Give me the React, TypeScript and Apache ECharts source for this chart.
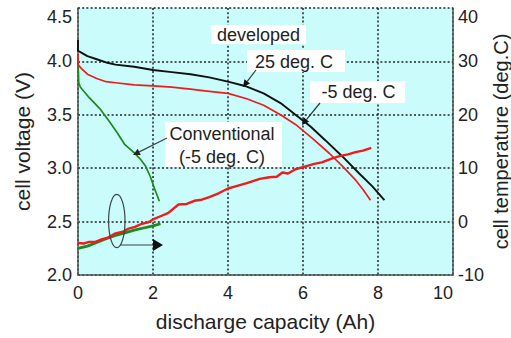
import React, { useEffect, useRef } from "react";
import * as echarts from "echarts";

// discharge capacity (Ah), cell voltage (V)
const developed25Voltage: [number, number][] = [
  [0, 4.2], [0, 4.1], [0.1, 4.08], [0.25, 4.05], [0.5, 4.02], [0.75, 3.99], [1.0, 3.97],
  [1.5, 3.95], [2.0, 3.92], [2.5, 3.9], [3.0, 3.88], [3.5, 3.85], [4.0, 3.81], [4.45, 3.77],
  [4.95, 3.7], [5.4, 3.61], [5.8, 3.5], [6.2, 3.39], [6.6, 3.26], [7.05, 3.11], [7.5, 2.95],
  [7.85, 2.83], [8.0, 2.77], [8.17, 2.7],
];
const developedM5Voltage: [number, number][] = [
  [0, 4.07], [0, 3.97], [0.1, 3.93], [0.25, 3.88], [0.5, 3.84], [0.75, 3.81], [1.0, 3.8],
  [1.5, 3.78], [2.0, 3.77], [2.5, 3.76], [3.0, 3.74], [3.5, 3.72], [4.0, 3.7], [4.5, 3.65],
  [4.95, 3.59], [5.4, 3.5], [5.8, 3.41], [6.25, 3.28], [6.7, 3.14], [7.05, 3.02], [7.4, 2.89],
  [7.6, 2.8], [7.8, 2.7],
];
const conventionalVoltage: [number, number][] = [
  [0, 4.0], [0.02, 3.8], [0.06, 3.76], [0.3, 3.66], [0.6, 3.55], [0.85, 3.43], [1.05, 3.33],
  [1.25, 3.22], [1.48, 3.15], [1.65, 3.09], [1.8, 3.02], [1.93, 2.92], [2.05, 2.8], [2.17, 2.69],
];
// discharge capacity (Ah), cell temperature (deg.C)
const developedM5Temp: [number, number][] = [
  [0, -4.0], [0.15, -4.1], [0.3, -3.8], [0.46, -3.8], [0.6, -3.4], [0.8, -3.0], [1.0, -2.2],
  [1.2, -1.9], [1.35, -1.3], [1.52, -1.0], [1.7, -0.4], [1.85, -0.2], [2.0, 0.4], [2.2, 1.0],
  [2.4, 1.6], [2.68, 3.2], [2.9, 3.3], [3.1, 3.9], [3.3, 4.1], [3.5, 4.6], [3.75, 5.3],
  [4.0, 6.2], [4.2, 6.6], [4.5, 7.2], [4.85, 8.0], [5.1, 8.3], [5.3, 8.4], [5.45, 9.2],
  [5.6, 9.0], [5.8, 9.8], [6.0, 10.2], [6.3, 10.8], [6.5, 11.1], [6.8, 11.9], [7.0, 12.3],
  [7.2, 12.6], [7.4, 13.0], [7.6, 13.3], [7.82, 13.8],
];
const conventionalTemp: [number, number][] = [
  [0, -5.0], [0.25, -4.6], [0.5, -3.9], [0.75, -3.2], [1.0, -2.6], [1.25, -2.1], [1.5, -1.6],
  [1.75, -1.2], [2.0, -0.8], [2.2, -0.4],
];

const xTicks = { min: 0, max: 10, interval: 2 };
const voltageTicks = { min: 2.0, max: 4.5, interval: 0.5 };
const tempTicks = { min: -10, max: 40, interval: 10 };

const FONT = "'Liberation Sans', Arial, sans-serif";
const TXT = "#222";

function arrow(x1: number, y1: number, x2: number, y2: number, len: number, half: number, lineColor: string, headColor: string) {
  const dx = x2 - x1;
  const dy = y2 - y1;
  const l = Math.sqrt(dx * dx + dy * dy);
  const ux = dx / l;
  const uy = dy / l;
  const bx = x2 - ux * len;
  const by = y2 - uy * len;
  const px = -uy;
  const py = ux;
  return [
    { type: "line", z: 100, silent: true, shape: { x1, y1, x2: bx, y2: by }, style: { stroke: lineColor, lineWidth: 1.2 } },
    {
      type: "polygon",
      z: 100,
      silent: true,
      shape: { points: [[x2, y2], [bx + px * half, by + py * half], [bx - px * half, by - py * half]] },
      style: { fill: headColor },
    },
  ];
}

function textBox(x: number, y: number, w: number, h: number) {
  return { type: "rect", z: 100, silent: true, shape: { x, y, width: w, height: h }, style: { fill: "#ffffff" } };
}

function label(text: string, x: number, y: number) {
  return {
    type: "text",
    z: 101,
    silent: true,
    x,
    y,
    style: { text, font: `18px ${FONT}`, fill: TXT, align: "center", verticalAlign: "middle", lineHeight: 23 },
  };
}

export default function App() {
  const ref = useRef<HTMLDivElement>(null);
  useEffect(() => {
    document.body.style.margin = "0";
    if (!ref.current) return;
    const chart = echarts.init(ref.current, null, { renderer: "svg" });
    const axisLineStyle = { color: "#4a5656", width: 1.5 };
    const split = { show: true, lineStyle: { color: "#222", width: 1.5, type: [2, 2.2] as any } };
    chart.setOption({
      animation: false,
      textStyle: { fontFamily: FONT },
      grid: {
        left: 78, right: 58, top: 8, bottom: 63,
        show: true, backgroundColor: "#cafcfc", borderWidth: 0,
        containLabel: false, outerBoundsMode: "none",
      },
      xAxis: {
        type: "value",
        ...xTicks,
        name: "discharge capacity (Ah)",
        nameLocation: "middle",
        nameGap: 36,
        nameMoveOverlap: false,
        nameTextStyle: { fontSize: 21, color: TXT, fontFamily: FONT },
        axisLine: { show: true, onZero: false, lineStyle: axisLineStyle },
        axisTick: { show: false },
        axisLabel: { fontSize: 18, color: TXT, margin: 9, fontFamily: FONT, alignMaxLabel: "right" },
        splitLine: split,
      },
      yAxis: [
        {
          type: "value",
          ...voltageTicks,
          name: "cell voltage (V)",
          nameLocation: "middle",
          nameGap: 45,
          nameMoveOverlap: false,
          nameTextStyle: { fontSize: 21, color: TXT, fontFamily: FONT },
          axisLine: { show: true, lineStyle: axisLineStyle },
          axisTick: { show: false },
          axisLabel: {
            fontSize: 18,
            color: TXT,
            margin: 6,
            fontFamily: FONT,
            verticalAlignMaxLabel: "top",
            formatter: (v: number) => v.toFixed(1),
          },
          splitLine: split,
        },
        {
          type: "value",
          ...tempTicks,
          position: "right",
          name: "cell temperature (deg.C)",
          nameLocation: "middle",
          nameGap: 38,
          nameMoveOverlap: false,
          nameTextStyle: { fontSize: 20, color: TXT, fontFamily: FONT },
          axisLine: { show: true, lineStyle: axisLineStyle },
          axisTick: { show: false },
          axisLabel: { fontSize: 18, color: TXT, margin: 5, fontFamily: FONT, verticalAlignMaxLabel: "top" },
          splitLine: { show: false },
        },
      ],
      series: [
        { type: "line", data: conventionalVoltage, showSymbol: false, silent: true, lineStyle: { color: "#1e8a1e", width: 1.7 } },
        { type: "line", data: developedM5Voltage, showSymbol: false, silent: true, lineStyle: { color: "#ee1c1c", width: 1.7 } },
        { type: "line", data: developed25Voltage, showSymbol: false, silent: true, lineStyle: { color: "#111111", width: 1.9 } },
        { type: "line", yAxisIndex: 1, data: conventionalTemp, showSymbol: false, silent: true, lineStyle: { color: "#1e8a1e", width: 2.8 } },
        { type: "line", yAxisIndex: 1, data: developedM5Temp, showSymbol: false, silent: true, lineStyle: { color: "#ee1c1c", width: 2.4 } },
      ],
      graphic: [
        textBox(211, 25, 95, 19),
        label("developed", 258.5, 34.5),
        textBox(247, 50, 98, 22),
        label("25 deg. C", 294, 61.5),
        textBox(310, 81, 95, 22),
        label("-5 deg. C", 358.5, 92),
        textBox(165, 122, 117, 45),
        label("Conventional\n(-5 deg. C)", 222, 145),
        ...arrow(256, 70, 243, 87, 7, 3.5, "#333", "#111"),
        ...arrow(320, 103, 302, 125, 7, 3.5, "#333", "#111"),
        ...arrow(167, 138, 133, 155, 7, 3.5, "#444", "#222"),
        {
          type: "ellipse",
          z: 100,
          silent: true,
          shape: { cx: 116.8, cy: 221, rx: 8.2, ry: 26.7 },
          style: { fill: "none", stroke: "#3a4444", lineWidth: 1.2 },
        },
        ...arrow(120, 245, 163, 245, 10, 6, "#3a4444", "#111"),
      ],
    });
    return () => chart.dispose();
  }, []);
  return <div ref={ref} style={{ width: 511, height: 338 }} />;
}
